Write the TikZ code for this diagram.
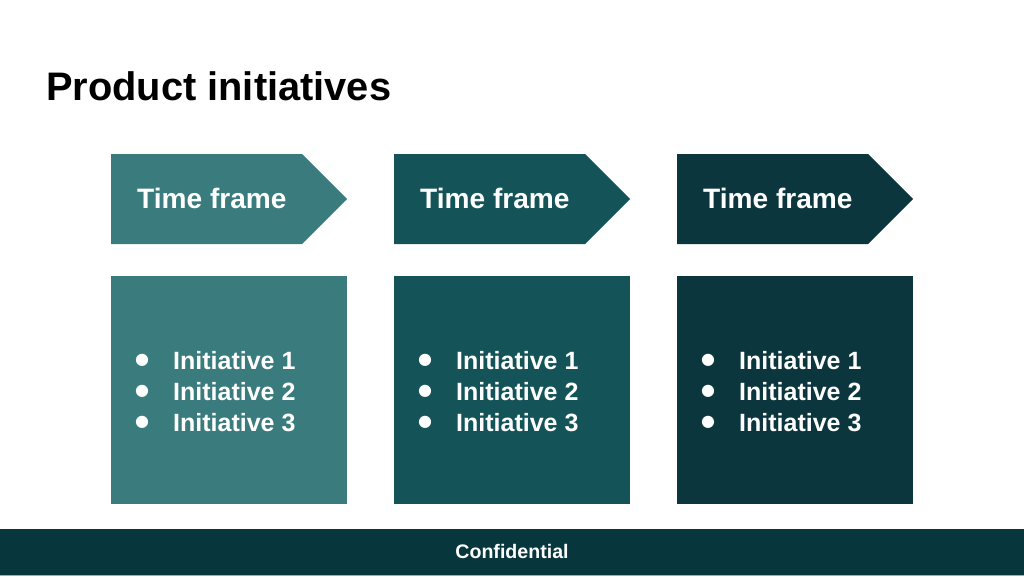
\documentclass[tikz,border=0pt]{standalone}
\usepackage{fontspec}
\setmainfont{Liberation Sans}
\newfontfamily\symfont{DejaVu Sans}
\definecolor{tealA}{HTML}{3A7B7D}
\definecolor{tealB}{HTML}{145459}
\definecolor{tealC}{HTML}{0B363D}
\definecolor{footbg}{HTML}{08363D}
\definecolor{footline}{HTML}{8FB3B6}
\tikzset{
  head/.style={anchor=base west, inner sep=0pt, text=white, font=\fontsize{28.1}{30}\selectfont\bfseries},
  item/.style={anchor=base west, inner sep=0pt, text=white, font=\fontsize{25}{30}\selectfont\bfseries},
  dot/.style={anchor=center, inner sep=0pt, text=white, font=\fontsize{16}{18}\symfont},
}
\begin{document}
\begin{tikzpicture}[x=1pt,y=-1pt]
\useasboundingbox (0,0) rectangle (1024,576);
\fill[white] (0,0) rectangle (1024,576);
\node[anchor=base west, inner sep=0pt, font=\fontsize{39.8}{44}\selectfont\bfseries] (title) at (46,100) {Product initiatives};
\foreach \i/\x/\c in {1/111/tealA, 2/394/tealB, 3/677/tealC}{
  \fill[\c] (\x,154) -- (\x+191,154) -- (\x+236,199) -- (\x+191,244) -- (\x,244) -- cycle;
  \node[head] (tf\i) at (\x+26,208) {Time frame};
  \fill[\c] (\x,276) rectangle (\x+236,504);
  \foreach \k/\y in {1/369, 2/400, 3/431}{
    \node[dot] (b\i\k) at (\x+31,\y-9) {●};
    \node[item] (it\i\k) at (\x+62,\y) {Initiative \k};
  }
}
\fill[footbg] (0,529) rectangle (1024,575);
\fill[footline] (0,575) rectangle (1024,576);
\node[anchor=base, inner sep=0pt, text=white, font=\fontsize{19.6}{22}\selectfont\bfseries] (conf) at (512,558) {Confidential};
\end{tikzpicture}
\end{document}
